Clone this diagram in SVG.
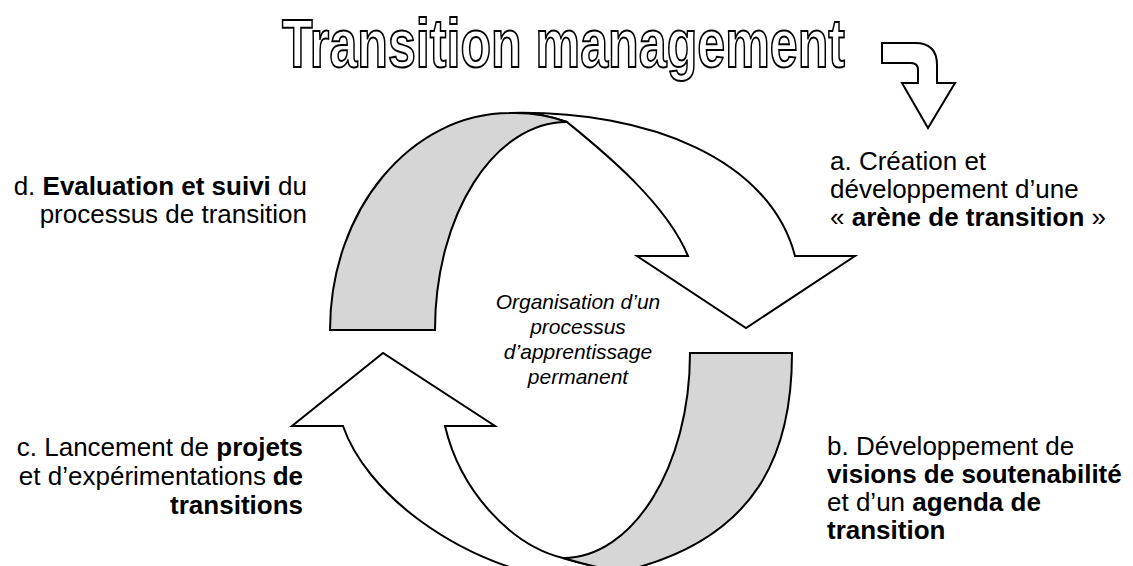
<svg xmlns="http://www.w3.org/2000/svg" width="1133" height="566" viewBox="0 0 1133 566">
<style>
.lbl{font-family:"Liberation Sans",Arial,sans-serif;font-size:26px;fill:#000}
.b{font-weight:bold}
.end{text-anchor:end}
.ctr{font-family:"Liberation Sans",Arial,sans-serif;font-size:21px;font-style:italic;fill:#000;text-anchor:middle}
.shape{stroke:#000;stroke-width:2;stroke-linejoin:miter}
.white{fill:#fff}
.gray{fill:#d6d6d6}
.title{font-family:"Liberation Sans Narrow","Liberation Sans",Arial,sans-serif;font-weight:bold;font-size:68px;fill:#fff;stroke:#000;stroke-width:2}
</style>
<rect width="1133" height="566" fill="#fff"/>
<g id="title">
<text class="title" x="282" y="67" textLength="563" lengthAdjust="spacingAndGlyphs">Transition management</text>
<path class="shape white" d="M882,43 L915,43 Q937,43 937,65 L937,83 L955,83 L928,128 L902,83 L918,83 L918,70 Q918,63 911,63 L882,63 Z"/>
</g>
<g id="connectors">
<g id="arrow-top">
<path class="shape white" d="M510,113 C650,110 770,160 795,256 L855,256 L746,328 L637,256 L688,256 C665,200 595,145 567,122 Q540,112 510,113 Z"/>
<path class="shape gray" d="M330,330 C330,210 411,113 510,113 Q540,112 567,122 C494,122 435,215 435,330 Z"/>
</g>
<g id="arrow-bottom">
<path class="shape white" d="M343,426 C365,490 450,560 560,580 L620,580 L620,572 Q590,566 563,558 C510,545 460,490 445,426 L495,426 L383,353 L292,426 Z"/>
<path class="shape gray" d="M690,353 L792,353 C792,450 760,540 620,572 Q590,566 563,558 C633,558 690,466 690,353 Z"/>
</g>
</g>
<g id="node-a">
<text class="lbl" x="830" y="170">a. Création et</text>
<text class="lbl" x="830" y="198">développement d’une</text>
<text class="lbl" x="830" y="226">« <tspan class="b">arène de transition</tspan> »</text>
</g>
<g id="node-b">
<text class="lbl" x="827" y="455">b. Développement de</text>
<text class="lbl b" x="827" y="483">visions de soutenabilité</text>
<text class="lbl" x="827" y="511">et d’un <tspan class="b">agenda de</tspan></text>
<text class="lbl b" x="827" y="539">transition</text>
</g>
<g id="node-c">
<text class="lbl end" x="209" y="456">c. Lancement de</text>
<text class="lbl b end" x="303" y="456">projets</text>
<text class="lbl end" x="266" y="485">et d’expérimentations</text>
<text class="lbl b end" x="303" y="485">de</text>
<text class="lbl b end" x="303" y="514">transitions</text>
</g>
<g id="node-d">
<text class="lbl end" x="307" y="195">d. <tspan class="b">Evaluation et suivi</tspan> du</text>
<text class="lbl end" x="307" y="223">processus de transition</text>
</g>
<g id="center">
<text class="ctr" x="578" y="309">Organisation d’un</text>
<text class="ctr" x="578" y="334">processus</text>
<text class="ctr" x="578" y="359">d’apprentissage</text>
<text class="ctr" x="578" y="384">permanent</text>
</g>
</svg>
